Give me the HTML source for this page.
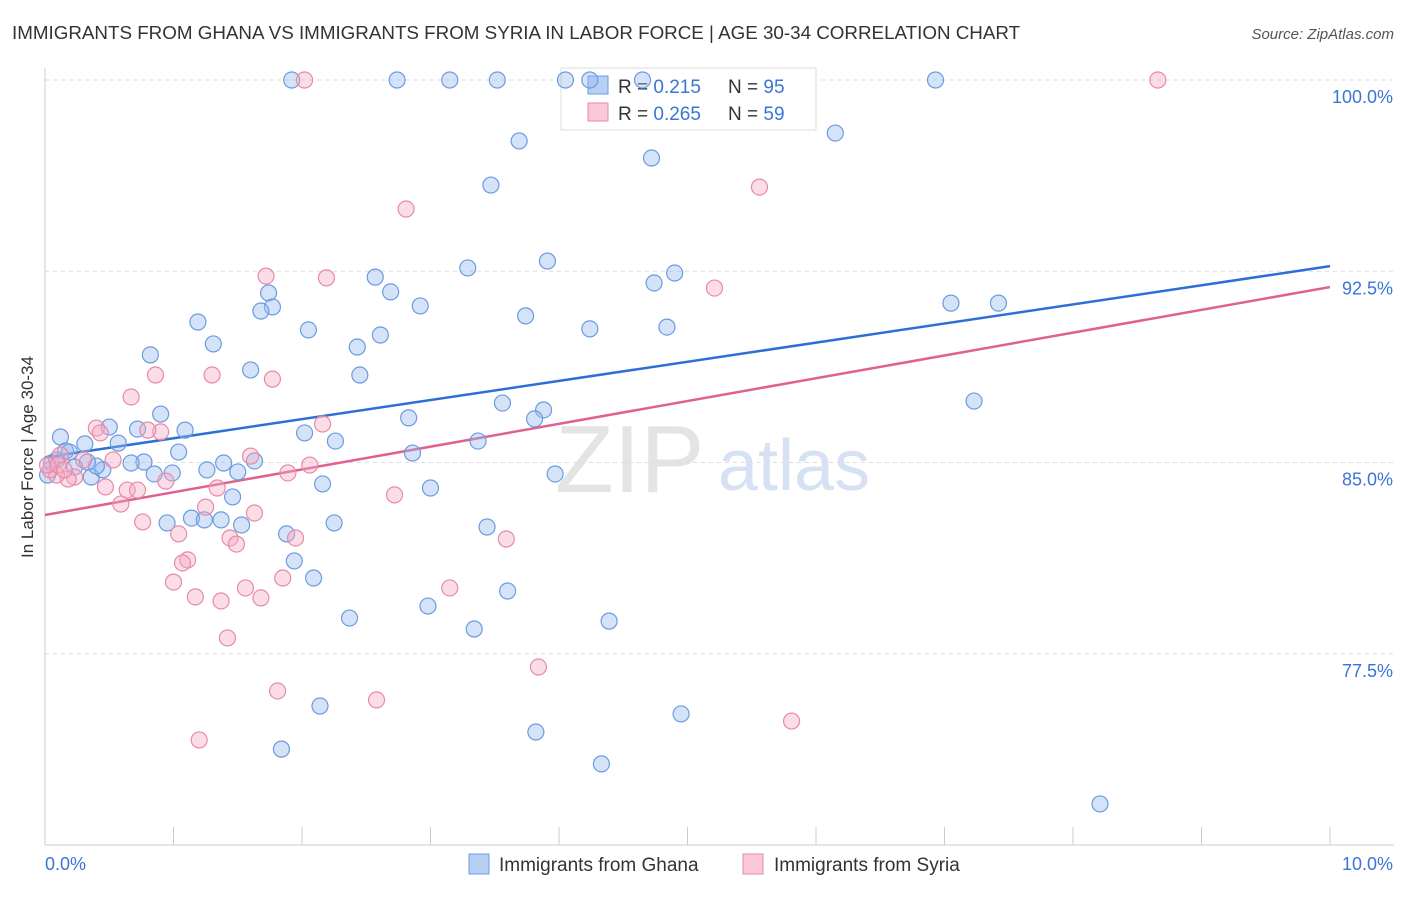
<!DOCTYPE html>
<html><head><meta charset="utf-8"><style>
body{margin:0;background:#fff;font-family:"Liberation Sans",sans-serif}
svg text{font-family:"Liberation Sans",sans-serif}
</style></head><body>
<svg id="chart" width="1406" height="892" viewBox="0 0 1406 892" xmlns="http://www.w3.org/2000/svg">
<text x="12" y="39" font-size="18.8" fill="#333">IMMIGRANTS FROM GHANA VS IMMIGRANTS FROM SYRIA IN LABOR FORCE | AGE 30-34 CORRELATION CHART</text>
<text x="1394" y="39" font-size="15" fill="#555" text-anchor="end" font-style="italic">Source: ZipAtlas.com</text>
<text transform="translate(33,457) rotate(-90)" font-size="17" fill="#333" text-anchor="middle">In Labor Force | Age 30-34</text>
<g><text x="555" y="492" font-size="96" fill="#e4e4e4" font-family="Liberation Serif,serif">ZIP</text><text x="718" y="490" font-size="72" fill="#d6e2f4">atlas</text></g>
<g id="grid"></g><g id="axes"></g><g id="trend"></g>
<g>
<rect x="561" y="68" width="255" height="62" fill="#fff" stroke="#ddd"/>
<rect x="588" y="76" width="20" height="18" fill="#b9d0f5" stroke="#6b9be0"/>
<text x="618" y="93" font-size="19" fill="#333">R = <tspan fill="#3a75d6">0.215</tspan></text>
<text x="728" y="93" font-size="19" fill="#333">N = <tspan fill="#3a75d6">95</tspan></text>
<rect x="588" y="103" width="20" height="18" fill="#f9c9d8" stroke="#e88aa8"/>
<text x="618" y="120" font-size="19" fill="#333">R = <tspan fill="#3a75d6">0.265</tspan></text>
<text x="728" y="120" font-size="19" fill="#333">N = <tspan fill="#3a75d6">59</tspan></text>
</g>
<g id="points"></g>
<g>
<rect x="469" y="854" width="20" height="20" fill="#b9d0f5" stroke="#6b9be0"/>
<text x="499" y="871" font-size="19" fill="#333">Immigrants from Ghana</text>
<rect x="743" y="854" width="20" height="20" fill="#f9c9d8" stroke="#e88aa8"/>
<text x="774" y="871" font-size="19" fill="#333">Immigrants from Syria</text>
</g>
</svg>
<script>
const yTicks=[100,92.5,85,77.5];
const yTickLabels=["100.0%","92.5%","85.0%","77.5%"];
const xTickLabels=["0.0%","10.0%"];
const ghanaX=[1.92,2.74,3.15,3.52,4.05,4.24,4.65,6.93,3.69,6.15,4.72,3.47,3.91,3.29,4.90,4.74,2.57,2.69,1.74,1.77,1.68,2.92,1.19,2.05,3.74,4.24,4.84,2.61,2.43,1.31,0.82,1.60,2.45,7.05,7.42,7.23,3.56,3.88,3.81,2.83,0.90,0.50,0.72,1.09,2.02,2.26,3.37,0.57,0.31,0.12,0.16,1.04,2.86,0.77,0.67,1.63,1.39,1.26,1.50,0.99,0.85,0.36,0.45,3.97,2.16,3.00,1.46,1.14,1.24,1.37,1.53,0.95,2.25,3.44,1.88,1.94,2.09,3.60,2.98,2.37,4.39,3.34,2.14,4.95,3.82,1.84,4.33,8.21,0.05,0.02,0.09,0.23,0.40,0.33,0.19];
const ghanaY=[100,100,100,100,100,100,100,100,97.61,97.92,96.94,95.88,92.90,92.63,92.43,92.04,92.27,91.69,91.65,91.10,90.94,91.14,90.51,90.20,90.75,90.24,90.31,90.0,89.53,89.65,89.22,88.63,88.43,91.25,91.25,87.41,87.33,87.06,86.71,86.75,86.90,86.39,86.31,86.27,86.16,85.84,85.84,85.76,85.73,86.0,85.45,85.41,85.37,85.02,84.98,85.06,84.98,84.71,84.63,84.59,84.55,84.43,84.71,84.55,84.16,84.0,83.65,82.82,82.75,82.75,82.55,82.63,82.63,82.47,82.20,81.14,80.47,79.96,79.37,78.90,78.78,78.47,75.45,75.14,74.43,73.76,73.18,71.61,84.98,84.51,85.10,84.82,84.86,85.02,85.41];
const syriaX=[2.02,8.66,5.56,2.81,1.72,2.19,5.21,0.67,0.86,1.30,1.77,0.90,0.40,0.43,0.80,2.16,1.60,2.06,1.89,0.53,0.30,0.12,0.23,0.18,0.09,0.04,0.94,1.34,0.64,0.72,0.47,2.72,0.59,1.25,1.63,0.76,1.04,1.44,1.49,1.95,3.59,1.11,1.07,1.00,1.56,1.85,3.15,1.17,1.37,1.68,1.42,3.84,1.81,2.58,5.81,1.20,0.02,0.10,0.15];
const syriaY=[100,100,95.80,94.94,92.31,92.24,91.84,87.57,88.43,88.43,88.27,86.20,86.35,86.16,86.27,86.51,85.25,84.90,84.59,85.10,85.10,85.29,84.43,84.35,84.51,84.71,84.27,84.0,83.92,83.92,84.04,83.73,83.37,83.25,83.02,82.67,82.20,82.04,81.80,82.04,82.0,81.18,81.06,80.31,80.08,80.47,80.08,79.73,79.57,79.69,78.12,76.98,76.04,75.69,74.86,74.12,84.90,84.90,84.71];
const ghanaTrend=[85.2,92.7];
const syriaTrend=[82.94,91.88];
const NS="http://www.w3.org/2000/svg";
const xs=v=>45+v*128.5;
const ys=v=>80+(100-v)*25.5;
function mk(tag,attrs,parent){const e=document.createElementNS(NS,tag);for(const k in attrs)e.setAttribute(k,attrs[k]);parent.appendChild(e);return e;}
const gridG=document.getElementById('grid'),axesG=document.getElementById('axes'),trendG=document.getElementById('trend'),ptsG=document.getElementById('points');
yTicks.forEach((t,i)=>{
 const l=mk('line',{x1:45,x2:1394,y1:ys(t),y2:ys(t),stroke:'#ddd','stroke-dasharray':'4,4'},gridG);
 
 
 const tx=mk('text',{x:1393,y:ys(t)+23,'font-size':18,fill:'#3a75d6','text-anchor':'end'},gridG);
 tx.textContent=yTickLabels[i];
 
 
});
const xa=mk('line',{x1:45,x2:1394,y1:845,y2:845,stroke:'#ccc'},axesG);


const ya=mk('line',{x1:45,x2:45,y1:68,y2:845,stroke:'#ccc'},axesG);


for(let i=0;i<=10;i++){
 const t=mk('line',{x1:xs(i),x2:xs(i),y1:827,y2:845,stroke:'#ccc'},axesG);
 
 
}
[[0,'start'],[10,'end']].forEach((p,i)=>{
 const tx=mk('text',{x:i?1393:45,y:870,'font-size':18,fill:'#3a75d6','text-anchor':p[1]},axesG);
 tx.textContent=xTickLabels[i];
 
 
});
const tg=mk('line',{x1:xs(0),x2:xs(10),y1:ys(ghanaTrend[0]),y2:ys(ghanaTrend[1]),stroke:'#2d6fd6','stroke-width':2.5},trendG);


const ts=mk('line',{x1:xs(0),x2:xs(10),y1:ys(syriaTrend[0]),y2:ys(syriaTrend[1]),stroke:'#e0608e','stroke-width':2.5},trendG);


ghanaX.forEach((x,i)=>{
 const c=mk('circle',{cx:xs(x),cy:ys(ghanaY[i]),r:8,fill:'rgba(150,185,240,0.4)',stroke:'#6b9be0','stroke-width':1.2},ptsG);
 
 
});
syriaX.forEach((x,i)=>{
 const c=mk('circle',{cx:xs(x),cy:ys(syriaY[i]),r:8,fill:'rgba(245,170,195,0.4)',stroke:'#e88aa8','stroke-width':1.2},ptsG);
 
 
});
</script>
</body></html>
